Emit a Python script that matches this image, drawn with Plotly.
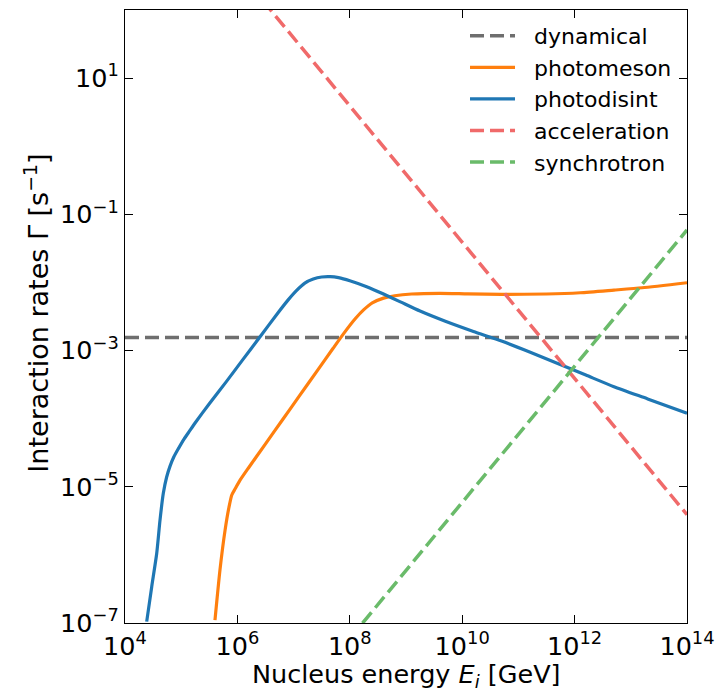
import numpy as np
import plotly.graph_objects as go

# ---- data (log10 values) ----
photodisint_logE = [4.386, 4.475, 4.564, 4.623, 4.681, 4.74, 4.80, 4.87, 4.95, 5.05,
                    5.15, 5.25, 5.5, 5.8, 6.1, 6.4, 6.7, 6.9, 7.05, 7.2,
                    7.35, 7.5, 7.65, 7.8, 8.0, 8.3, 8.6, 8.9, 9.25, 9.7,
                    10.2, 10.7, 11.2, 11.7, 12.2, 12.7, 13.3, 14.0]
photodisint_logG = [-6.98, -6.47, -5.98, -5.49, -5.10, -4.86, -4.70, -4.56, -4.44, -4.30,
                    -4.18, -4.06, -3.78, -3.46, -3.13, -2.80, -2.47, -2.26, -2.12, -2.01,
                    -1.95, -1.92, -1.915, -1.93, -1.975, -2.063, -2.17, -2.285, -2.42, -2.57,
                    -2.72, -2.86, -3.02, -3.19, -3.36, -3.53, -3.71, -3.92]

photomeson_logE = [5.601, 5.69, 5.78, 5.85, 5.90, 5.96, 6.05, 6.2, 6.5, 6.8,
                   7.1, 7.4, 7.7, 7.9, 8.1, 8.25, 8.4, 8.6, 8.8, 9.1,
                   9.6, 10.1, 10.7, 11.5, 12.1, 12.7, 13.2, 14.0]
photomeson_logG = [-6.957, -6.22, -5.64, -5.30, -5.12, -5.03, -4.90, -4.72, -4.37, -4.02,
                   -3.67, -3.32, -2.97, -2.74, -2.53, -2.40, -2.30, -2.23, -2.195, -2.170,
                   -2.160, -2.168, -2.175, -2.170, -2.151, -2.112, -2.078, -2.004]

dynamical_E = [1e4, 1e14]
dynamical_G = [1.55e-3, 1.55e-3]

acceleration_E = [1e6, 1e14]
acceleration_G = [3.9e2, 3.9e-6]

synchrotron_E = [1e8, 1e14]
synchrotron_G = [5.9e-8, 5.9e-2]

x_tickvals = [1e4, 1e6, 1e8, 1e10, 1e12, 1e14]
x_ticktext = ["10<sup>4</sup>", "10<sup>6</sup>", "10<sup>8</sup>", "10<sup>10</sup>",
              "10<sup>12</sup>", "10<sup>14</sup>"]
y_tickvals = [1e-7, 1e-5, 1e-3, 1e-1, 1e1]
y_ticktext = ["10<sup>\u22127</sup>", "10<sup>\u22125</sup>", "10<sup>\u22123</sup>",
              "10<sup>\u22121</sup>", "10<sup>1</sup>"]

x_title = "Nucleus energy <i>E<sub>i</sub></i> [GeV]"
y_title = "Interaction rates \u0393 [s<sup>\u22121</sup>]"

FONT = "DejaVu Sans"
PAD = "\u00a0\u00a0"

fig = go.Figure()
fig.add_trace(go.Scatter(x=dynamical_E, y=dynamical_G, mode="lines", name=PAD + "dynamical",
                         line=dict(color="#6e6e6e", width=3.5, dash="14px,6px")))
fig.add_trace(go.Scatter(x=np.power(10.0, photomeson_logE), y=np.power(10.0, photomeson_logG),
                         mode="lines", name=PAD + "photomeson",
                         line=dict(color="#ff7f0e", width=3.2, shape="spline", smoothing=0.6)))
fig.add_trace(go.Scatter(x=np.power(10.0, photodisint_logE), y=np.power(10.0, photodisint_logG),
                         mode="lines", name=PAD + "photodisint",
                         line=dict(color="#1f77b4", width=3.2, shape="spline", smoothing=0.6)))
fig.add_trace(go.Scatter(x=acceleration_E, y=acceleration_G, mode="lines", name=PAD + "acceleration",
                         line=dict(color="#f06a6a", width=3.5, dash="14px,6px")))
fig.add_trace(go.Scatter(x=synchrotron_E, y=synchrotron_G, mode="lines", name=PAD + "synchrotron",
                         line=dict(color="#6abb6a", width=3.5, dash="14px,6px")))

axis_common = dict(showline=True, linecolor="black", linewidth=1.3, mirror="allticks",
                   ticks="inside", ticklen=8, tickwidth=1.3, tickcolor="black",
                   showgrid=False, zeroline=False, automargin=False,
                   tickfont=dict(family=FONT, size=25.5, color="black"))

fig.update_xaxes(type="log", range=[4, 14], tickvals=x_tickvals, ticktext=x_ticktext,
                 **axis_common)
fig.update_yaxes(type="log", range=[-7, 2], tickvals=y_tickvals, ticktext=y_ticktext,
                 **axis_common)

fig.add_annotation(text=x_title, xref="paper", yref="paper", x=0.5, y=-0.085,
                   xanchor="center", yanchor="middle", showarrow=False, borderpad=0,
                   font=dict(family=FONT, size=25.5, color="black"))
fig.add_annotation(text=y_title, xref="paper", yref="paper", x=-0.158, y=0.505,
                   xanchor="center", yanchor="middle", showarrow=False, textangle=-90,
                   borderpad=0, font=dict(family=FONT, size=27, color="black"))

fig.update_layout(
    width=728, height=690,
    margin=dict(l=125, r=41, t=10, b=67),
    paper_bgcolor="white", plot_bgcolor="white",
    font=dict(family=FONT, color="black"),
    legend=dict(x=0.605, y=0.992, xanchor="left", yanchor="top",
                bgcolor="rgba(0,0,0,0)", borderwidth=0,
                font=dict(family=FONT, size=22, color="black"),
                itemwidth=45, tracegroupgap=0),
)

fig.write_html("out.html")
